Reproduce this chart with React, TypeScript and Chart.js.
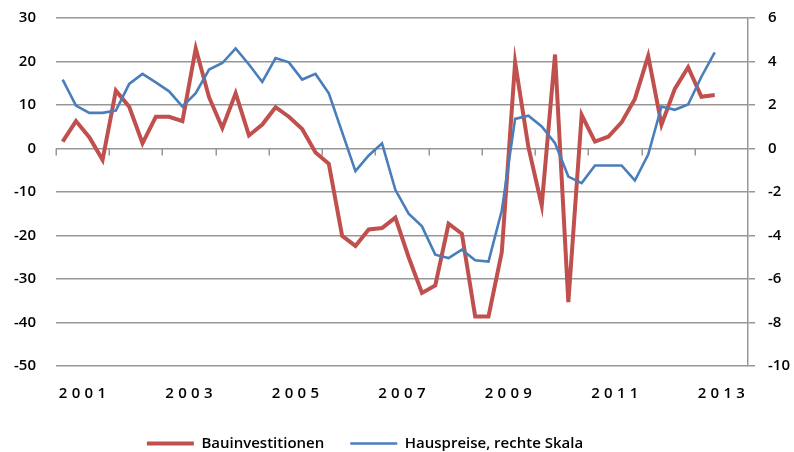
import React, { useEffect, useRef } from "react";
import { Chart, registerables } from "chart.js";

Chart.register(...registerables);

const years = ["2001","2002","2003","2004","2005","2006","2007","2008","2009","2010","2011","2012","2013"];
const quarters = years.flatMap((y) => ["Q1", "Q2", "Q3", "Q4"].map((q) => `${y} ${q}`));

const bauinvestitionen = [
  1.6, 6.3, 2.6, -2.6, 13.3, 9.6, 1.2, 7.3,
  7.3, 6.3, 23.0, 11.8, 4.7, 12.7, 3.0, 5.5,
  9.5, 7.3, 4.5, -0.9, -3.5, -20.1, -22.4, -18.6,
  -18.3, -15.9, -25.0, -33.2, -31.5, -17.3, -19.6, -38.6,
  -38.6, -23.8, 19.8, 0.3, -13.1, 21.6, -35.3, 7.7,
  1.6, 2.7, 6.0, 11.4, 21.3, 5.5, 13.7, 18.7,
  11.9, 12.3, null, null,
];

const hauspreise = [
  3.17, 1.97, 1.64, 1.64, 1.74, 2.97, 3.43, 3.04,
  2.63, 1.93, 2.54, 3.63, 3.93, 4.6, 3.86, 3.06,
  4.16, 3.96, 3.17, 3.43, 2.54, 0.75, -1.04, -0.32,
  0.24, -1.9, -3.0, -3.58, -4.88, -5.04, -4.65, -5.14,
  -5.2, -2.85, 1.36, 1.51, 1.01, 0.24, -1.29, -1.59,
  -0.78, -0.78, -0.78, -1.47, -0.28, 1.93, 1.78, 2.02,
  3.3, 4.42, null, null,
];

const seriesNames = ["Bauinvestitionen", "Hauspreise, rechte Skala"];
const FONT = "'Open Sans', 'DejaVu Sans', sans-serif";
const GRID = "#979797";
const WEIGHT = "600";

export default function App() {
  const ref = useRef<HTMLCanvasElement | null>(null);

  useEffect(() => {
    if (!ref.current) return;
    const helper = {
      id: "helper",
      beforeDatasetsDraw(chart: any) {
        const ctx = chart.ctx;
        const xs = chart.scales.x;
        const y0 = chart.scales.y.getPixelForValue(0);
        ctx.save();
        ctx.strokeStyle = GRID;
        ctx.lineWidth = 1.5;
        ctx.beginPath();
        for (let k = 0; k < years.length; k++) {
          const px = Math.round(xs.getPixelForValue(k * 4 - 0.5)) + 0.25;
          ctx.moveTo(px, y0);
          ctx.lineTo(px, y0 + 7);
        }
        ctx.stroke();
        ctx.restore();
      },
      afterDatasetsDraw(chart: any) {
        (chart.ctx as any).letterSpacing = "4.3px";
      },
      afterDraw(chart: any) {
        (chart.ctx as any).letterSpacing = "0px";
      },
      afterLayout(chart: any) {
        if (chart.legend) {
          chart.legend.right -= 64;
        }
      },
    };
    const chart = new Chart(ref.current, {
      type: "line",
      data: {
        labels: quarters,
        datasets: [
          {
            label: seriesNames[0],
            data: bauinvestitionen,
            borderColor: "#C0504D",
            backgroundColor: "#C0504D",
            borderWidth: 4,
            pointRadius: 0,
            tension: 0,
            yAxisID: "y",
            order: 1,
          },
          {
            label: seriesNames[1],
            data: hauspreise,
            borderColor: "#4A7EBB",
            backgroundColor: "#4A7EBB",
            borderWidth: 2.6,
            pointRadius: 0,
            tension: 0,
            yAxisID: "y2",
            order: 0,
          },
        ],
      },
      options: {
        animation: false,
        responsive: false,
        events: [],
        layout: { padding: { top: 18, left: 0, right: 0, bottom: 0 } },
        plugins: {
          tooltip: { enabled: false },
          legend: {
            position: "bottom",
            maxHeight: 42,
            labels: {
              usePointStyle: true,
              pointStyle: "line",
              pointStyleWidth: 47,
              padding: 26,
              color: "#000",
              font: { family: FONT, size: 15, weight: WEIGHT },
              sort: (a: any, b: any) => a.datasetIndex - b.datasetIndex,
            },
          },
        },
        scales: {
          x: {
            type: "category",
            display: false,
            offset: true,
          },
          xYears: {
            type: "category",
            labels: years,
            position: "bottom",
            offset: true,
            grid: { display: false, drawTicks: false },
            border: { display: false },
            afterFit: (s: any) => {
              s.height = 44;
            },
            ticks: {
              z: 1,
              autoSkip: false,
              maxRotation: 0,
              padding: 19,
              labelOffset: 2,
              color: "#000",
              font: { family: FONT, size: 15, weight: WEIGHT },
              callback: (_v: any, i: number) => (i % 2 === 0 ? years[i] : ""),
            },
          },
          y: {
            position: "left",
            min: -50,
            max: 30,
            afterFit: (s: any) => {
              s.width = 56;
            },
            ticks: {
              stepSize: 10,
              padding: 3,
              color: "#000",
              font: { family: FONT, size: 15, lineHeight: 0.6, weight: WEIGHT },
            },
            grid: {
              color: GRID,
              lineWidth: 1.5,
              drawTicks: true,
              tickLength: 17,
              tickColor: "rgba(0,0,0,0)",
            },
            border: { display: false },
          },
          y2: {
            position: "right",
            min: -10,
            max: 6,
            afterFit: (s: any) => {
              s.width = 46;
            },
            ticks: {
              stepSize: 2,
              padding: 13,
              color: "#000",
              font: { family: FONT, size: 15, lineHeight: 0.6, weight: WEIGHT },
            },
            grid: { drawOnChartArea: false, color: GRID, lineWidth: 1.5, tickLength: 7 },
            border: { display: true, color: GRID, width: 1.5 },
          },
        },
      },
      plugins: [helper],
    } as any);
    return () => chart.destroy();
  }, []);

  return (
    <div style={{ position: "fixed", left: 0, top: 0, width: 794, height: 452, background: "#fff" }}>
      <canvas ref={ref} width={794} height={452} style={{ width: 794, height: 452 }} />
    </div>
  );
}
